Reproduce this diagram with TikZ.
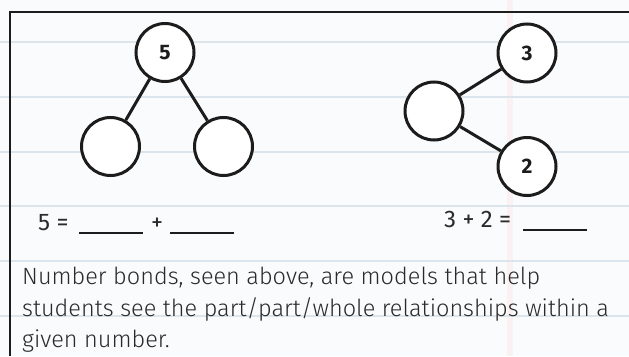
\documentclass[tikz,border=0pt]{standalone}
\usepackage{fontspec}
\setmainfont{Fira Sans Light}[BoldFont={Fira Sans Bold}]
\newfontfamily\eqfont{Fira Sans}
\definecolor{paper}{HTML}{FAFBFC}
\definecolor{rule}{HTML}{DCE4EC}
\definecolor{margin}{HTML}{FAF1F3}
\definecolor{ink}{HTML}{1C1C1C}
\definecolor{txt}{HTML}{2A2A2A}
\begin{document}
\begin{tikzpicture}[x=1pt,y=-1pt,
  bond/.style={circle,draw=ink,line width=3pt,fill=white,minimum size=58pt,inner sep=0pt,
    font=\fontsize{21}{21}\selectfont\bfseries,text=ink},
  link/.style={draw=ink,line width=3pt},
  ruleline/.style={draw=rule,line width=1.6pt},
  eq/.style={font=\eqfont\fontsize{24}{24}\selectfont,text=txt,inner sep=0pt,anchor=base west},
  body/.style={font=\fontsize{23.5}{23.5}\selectfont,text=txt,inner sep=0pt,anchor=base west},
  blank/.style={draw=ink,line width=1.3pt}]
\useasboundingbox (0,0) rectangle (629,356);
\fill[paper] (0,0) rectangle (629,356);
\fill[margin] (507,0) rectangle (513,356);
\foreach \yy in {42,97,152,206,261,316} \draw[ruleline] (0,\yy) -- (629,\yy);
% frame
\draw[draw=ink,line width=2.5pt] (10,356) -- (10,12) -- (630,12);
% left bond
\node[bond] (w1) at (165,52.5) {5};
\node[bond] (p1) at (110.5,146.5) {};
\node[bond] (p2) at (223.5,146.5) {};
\draw[link] (w1) -- (p1);
\draw[link] (w1) -- (p2);
% right bond
\node[bond] (w2) at (434,111) {};
\node[bond] (q1) at (527,53) {3};
\node[bond] (q2) at (527,166.5) {2};
\draw[link] (w2) -- (q1);
\draw[link] (w2) -- (q2);
% equations
\node[eq] (e1) at (38,230) {5 =};
\coordinate (b1s) at (79,233); \coordinate (b1e) at (143,233);
\draw[blank] (b1s) -- (b1e);
\node[eq] (e2) at (151,230) {+};
\coordinate (b2s) at (170,233); \coordinate (b2e) at (234,233);
\draw[blank] (b2s) -- (b2e);
\node[eq] (e3) at (444,227) {3 + 2 =};
\coordinate (b3s) at (523,230); \coordinate (b3e) at (587,230);
\draw[blank] (b3s) -- (b3e);
% body text
\node[body] (t1) at (22,284) {Number bonds, seen above, are models that help};
\node[body] (t2) at (22,316) {students see the part/part/whole relationships within a};
\node[body] (t3) at (22,347) {given number.};
\end{tikzpicture}
\end{document}
